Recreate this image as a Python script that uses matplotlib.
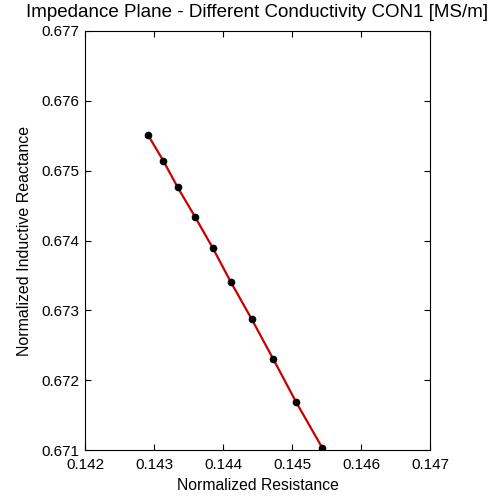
import matplotlib
matplotlib.use("Agg")
import matplotlib.pyplot as plt

resistance = [0.142913, 0.143135, 0.143343, 0.143594, 0.143850,
              0.144116, 0.144416, 0.144729, 0.145058, 0.145439]
reactance = [0.675510, 0.675142, 0.674761, 0.674340, 0.673896,
             0.673400, 0.672874, 0.672301, 0.671689, 0.671030]
xticks = [0.142, 0.143, 0.144, 0.145, 0.146, 0.147]
yticks = [0.671, 0.672, 0.673, 0.674, 0.675, 0.676, 0.677]

plt.rcParams['font.family'] = ['Liberation Sans', 'DejaVu Sans']

fig = plt.figure(figsize=(4.94, 4.97), dpi=100)
ax = fig.add_axes([85/494, 47/497, 345/494, 419/497])
ax.plot(resistance, reactance, color='#c80000', linewidth=1.6, zorder=2)
ax.plot(resistance, reactance, 'o', color='black', markersize=4.5, zorder=3)

ax.set_xlim(0.142, 0.147)
ax.set_ylim(0.671, 0.677)
ax.set_xticks(xticks)
ax.set_yticks(yticks)
ax.set_xticklabels([f"{v:.3f}" for v in xticks])
ax.set_yticklabels([f"{v:.3f}" for v in yticks])
ax.tick_params(direction='in', top=True, right=True, length=4, width=0.8,
               labelsize=11, pad=4)
ax.tick_params(axis='x', pad=6)
for s in ax.spines.values():
    s.set_linewidth(0.8)

ax.set_xlabel('Normalized Resistance', fontsize=11.3, labelpad=4)
ax.set_ylabel('Normalized Inductive Reactance', fontsize=11.5, labelpad=7)
ax.set_title('Impedance Plane - Different Conductivity CON1 [MS/m]', fontsize=13.5, pad=10)

fig.savefig('out.png', dpi=100)
